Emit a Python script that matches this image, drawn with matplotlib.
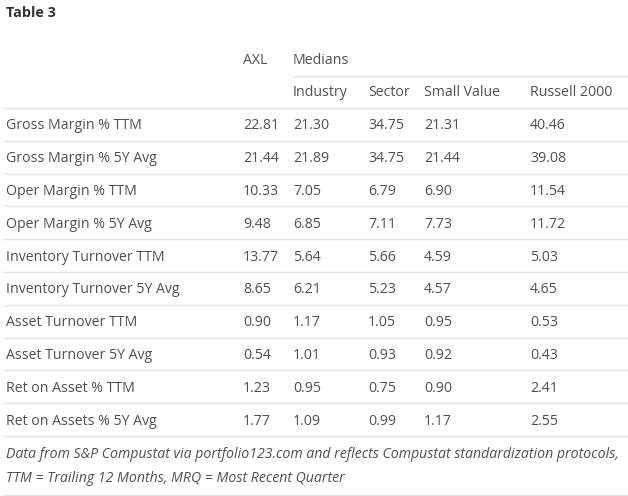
import matplotlib.pyplot as plt

row_labels = ['Gross Margin % TTM', 'Gross Margin % 5Y Avg', 'Oper Margin % TTM',
              'Oper Margin % 5Y Avg', 'Inventory Turnover TTM', 'Inventory Turnover 5Y Avg',
              'Asset Turnover TTM', 'Asset Turnover 5Y Avg', 'Ret on Asset % TTM',
              'Ret on Assets % 5Y Avg']
axl = [22.81, 21.44, 10.33, 9.48, 13.77, 8.65, 0.90, 0.54, 1.23, 1.77]
industry = [21.30, 21.89, 7.05, 6.85, 5.64, 6.21, 1.17, 1.01, 0.95, 1.09]
sector = [34.75, 34.75, 6.79, 7.11, 5.66, 5.23, 1.05, 0.93, 0.75, 0.99]
small_value = [21.31, 21.44, 6.90, 7.73, 4.59, 4.57, 0.95, 0.92, 0.90, 1.17]
russell = [40.46, 39.08, 11.54, 11.72, 5.03, 4.65, 0.53, 0.43, 2.41, 2.55]
median_heads = ['Industry', 'Sector', 'Small Value', 'Russell 2000']
footnote = ['Data from S&P Compustat via portfolio123.com and reflects Compustat standardization protocols,',
            'TTM = Trailing 12 Months, MRQ = Most Recent Quarter']

txt = '#505050'
line_c = '#e4e4e4'
plt.rcParams['font.family'] = ['Open Sans', 'DejaVu Sans']
fs = 10.2

fig = plt.figure(figsize=(6.28, 4.96), dpi=100)
ax = fig.add_axes([0, 0, 1, 1])
ax.set_xlim(0, 628)
ax.set_ylim(496, 0)
ax.axis('off')

col_x = [243, 293, 368, 424, 530]

ax.text(6, 13, 'Table 3', fontsize=10.4, fontweight='bold', color='#333333', va='center')
ax.text(col_x[0], 60, 'AXL', fontsize=fs, color=txt, va='center')
ax.text(col_x[1], 60, 'Medians', fontsize=fs, color=txt, va='center')
ax.plot([293, 628], [76, 76], color=line_c, lw=1)
for x, h in zip(col_x[1:], median_heads):
    ax.text(x, 93, h, fontsize=fs, color=txt, va='center')

top = 108
step = 32.8
ax.plot([4, 628], [top, top], color=line_c, lw=1)
for i, lab in enumerate(row_labels):
    yc = top + step * (i + 0.5) + 1.5
    ax.text(6, yc, lab, fontsize=fs, color=txt, va='center')
    vals = [axl[i], industry[i], sector[i], small_value[i], russell[i]]
    for x, v in zip(col_x, vals):
        ax.text(x, yc, '%.2f' % v, fontsize=fs, color=txt, va='center')
    ax.plot([4, 628], [top + step * (i + 1)] * 2, color=line_c, lw=1)

for j, f in enumerate(footnote):
    ax.text(6, 455 + 24 * j, f, fontsize=fs, color=txt, va='center', style='italic')
ax.plot([4, 628], [495, 495], color=line_c, lw=1)

fig.savefig('out.png', dpi=100, facecolor='white')
